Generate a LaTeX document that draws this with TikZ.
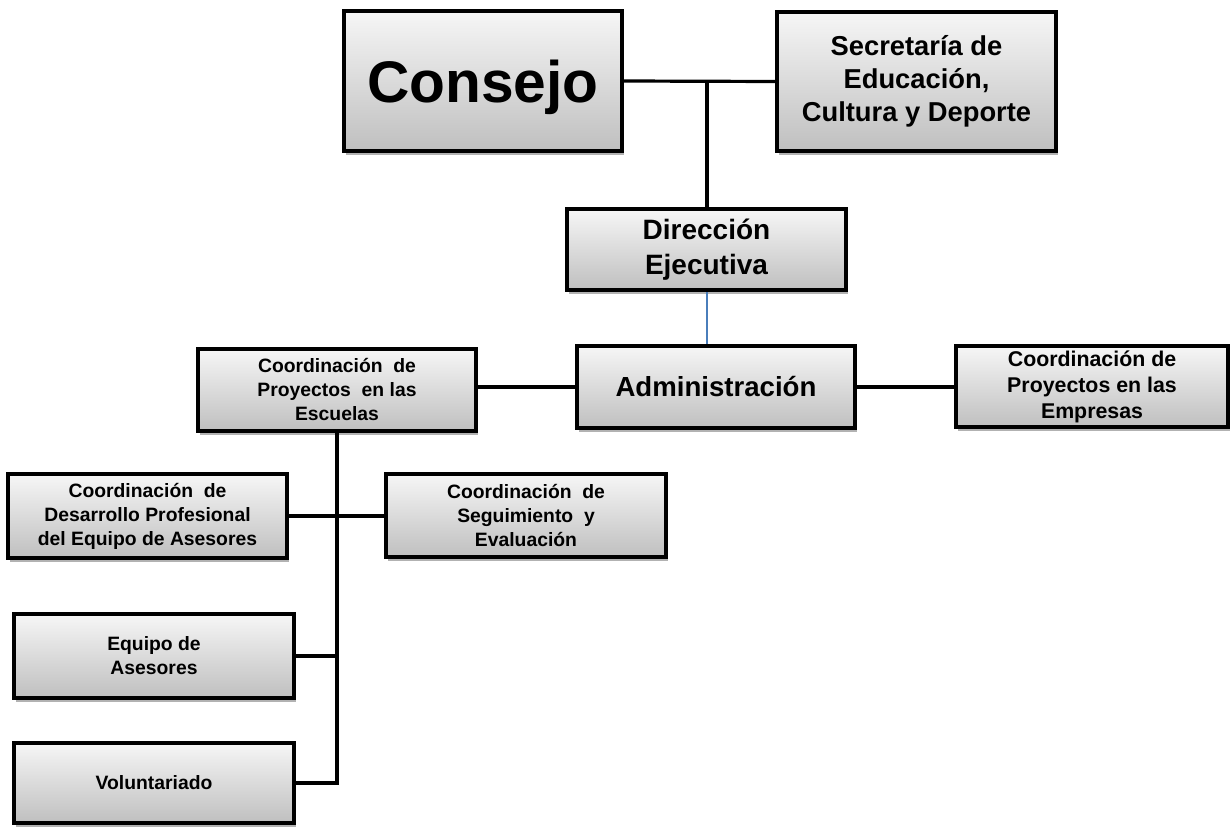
\documentclass[tikz,border=0pt]{standalone}
\usepackage{fontspec}
\setmainfont{Liberation Sans}
\usetikzlibrary{shadows}
\definecolor{lineblue}{HTML}{4A7EBB}
\tikzset{
  orgbox/.style 2 args={draw=black, line width=2.8pt, rectangle, align=center,
    minimum width=#1*0.75pt, minimum height=#2*0.75pt, inner sep=2pt,
    top color=gray!7, bottom color=gray!50,
    drop shadow={shadow xshift=1.8pt, shadow yshift=-2.8pt, fill=black, opacity=0.3},
    font=\bfseries},
  conn/.style={draw=black, line width=2.4pt},
  blueconn/.style={draw=lineblue, line width=1.5pt},
  smalltxt/.style={font=\bfseries\fontsize{14.5}{18}\selectfont},
}
\begin{document}
\begin{tikzpicture}[x=0.75pt, y=-0.75pt]
\useasboundingbox (0,0) rectangle (1230,827);
\node[orgbox={278}{140}, text depth=0pt, font=\bfseries\fontsize{44}{50}\selectfont] (consejo) at (483,81) {Consejo};
\node[orgbox={279}{139}, font=\bfseries\fontsize{20.5}{24.8}\selectfont] (secretaria) at (916.5,81.5) {Secretaría de\\Educación,\\Cultura y Deporte};
\node[orgbox={279}{81}, font=\bfseries\fontsize{21}{26}\selectfont] (direccion) at (706.5,249.5) {Dirección\\Ejecutiva};
\node[orgbox={278}{82}, font=\bfseries\fontsize{20.7}{25}\selectfont] (admin) at (716,387) {Administración};
\node[orgbox={278}{82}, smalltxt] (escuelas) at (337,390) {Coordinación\ \ de\\Proyectos\ \ en las\\Escuelas};
\node[orgbox={272}{81}, font=\bfseries\fontsize{16}{19.5}\selectfont] (empresas) at (1092,386.5) {Coordinación de\\Proyectos en las\\Empresas};
\node[orgbox={279}{84}, smalltxt] (desarrollo) at (147.5,516) {Coordinación\ \ de\\Desarrollo Profesional\\del Equipo de Asesores};
\node[orgbox={280}{83}, smalltxt] (seguimiento) at (526,515.5) {Coordinación\ \ de\\Seguimiento\ \ y\\Evaluación};
\node[orgbox={280}{84}, smalltxt] (equipo) at (154,656) {Equipo de\\Asesores};
\node[orgbox={280}{80}, smalltxt] (voluntariado) at (154,783) {Voluntariado};
\coordinate (j1) at (707,81);
\draw[conn] (consejo.east) -- (secretaria.west);
\draw[conn] (j1) -- (j1 |- direccion.north);
\draw[blueconn] (direccion.south) -- (direccion.south |- admin.north);
\draw[conn] (admin.west) -- (admin.west -| escuelas.east);
\draw[conn] (admin.east) -- (admin.east -| empresas.west);
\draw[conn] (escuelas.south) -- (escuelas.south |- voluntariado.east) -- (voluntariado.east);
\draw[conn] (desarrollo.east) -- (desarrollo.east -| seguimiento.west);
\draw[conn] (equipo.east) -- (equipo.east -| escuelas.south);
\end{tikzpicture}
\end{document}
